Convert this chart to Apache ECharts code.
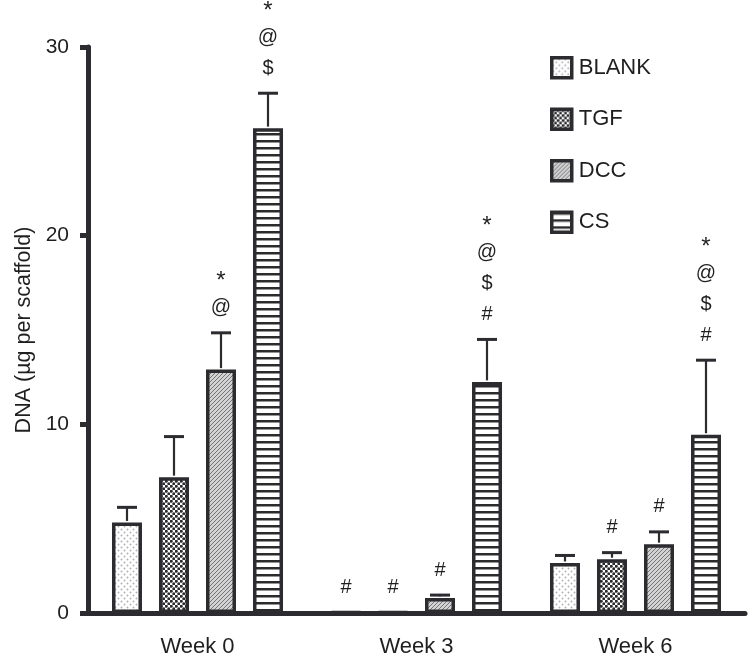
<!DOCTYPE html>
<html>
<head>
<meta charset="utf-8">
<script src="https://cdn.jsdelivr.net/npm/echarts@6/dist/echarts.min.js"></script>
<style>
html,body{margin:0;padding:0;background:#fff;}
#chart{width:754px;height:661px;}
</style>
</head>
<body>
<div id="chart"></div>
<script>
// ---- data ----
const categories = ['Week 0', 'Week 3', 'Week 6'];
const seriesNames = ['BLANK', 'TGF', 'DCC', 'CS'];
const blankMean = [4.8, 0.05, 2.65];
const blankSD   = [0.8, 0, 0.4];
const tgfMean   = [7.2, 0.05, 2.85];
const tgfSD     = [2.15, 0, 0.35];
const dccMean   = [12.9, 0.8, 3.65];
const dccSD     = [1.95, 0.15, 0.65];
const csMean    = [25.7, 12.25, 9.45];
const csSD      = [1.85, 2.25, 3.95];
const blankMarks = ['', '#', ''];
const tgfMarks   = ['', '#', '#'];
const dccMarks   = ['*\n@', '#', '#'];
const csMarks    = ['*\n@\n$', '*\n@\n$\n#', '*\n@\n$\n#'];
const yTicks = [0, 10, 20, 30];

const means = [blankMean, tgfMean, dccMean, csMean];
const sds = [blankSD, tgfSD, dccSD, csSD];
const marks = [blankMarks, tgfMarks, dccMarks, csMarks];

const DARK = '#2b2b30';
const TXT = '#1f1f1f';
const FONT = 'Liberation Sans, Arial, Helvetica, sans-serif';

// ---- patterns ----
function makeCanvas(w, h, draw) {
  const c = document.createElement('canvas');
  c.width = w; c.height = h;
  const ctx = c.getContext('2d');
  draw(ctx, w, h);
  return c;
}
const patBlank = makeCanvas(6, 6, (ctx, w, h) => {
  ctx.fillStyle = '#ffffff'; ctx.fillRect(0, 0, w, h);
  ctx.fillStyle = '#b0b0b0';
  ctx.beginPath(); ctx.arc(1.5, 1.5, 0.95, 0, Math.PI * 2); ctx.fill();
  ctx.beginPath(); ctx.arc(4.5, 4.5, 0.95, 0, Math.PI * 2); ctx.fill();
});
const patTgf = makeCanvas(5, 5, (ctx, w, h) => {
  ctx.fillStyle = '#ffffff'; ctx.fillRect(0, 0, w, h);
  ctx.fillStyle = '#2a2a2a';
  ctx.beginPath(); ctx.arc(1.25, 1.25, 1.5, 0, Math.PI * 2); ctx.fill();
  ctx.beginPath(); ctx.arc(3.75, 3.75, 1.5, 0, Math.PI * 2); ctx.fill();
});
const patDcc = makeCanvas(4, 4, (ctx, w, h) => {
  ctx.fillStyle = '#d2d2d2'; ctx.fillRect(0, 0, w, h);
  ctx.strokeStyle = '#767676'; ctx.lineWidth = 1;
  ctx.beginPath();
  ctx.moveTo(-1, 5); ctx.lineTo(5, -1);
  ctx.moveTo(-1, 1); ctx.lineTo(1, -1);
  ctx.moveTo(3, 5); ctx.lineTo(5, 3);
  ctx.stroke();
});
const patCs = makeCanvas(4, 7, (ctx, w, h) => {
  ctx.fillStyle = '#ffffff'; ctx.fillRect(0, 0, w, h);
  ctx.fillStyle = '#2b2b2b'; ctx.fillRect(0, 0, w, 2.5);
});
const patterns = [patBlank, patTgf, patDcc, patCs];

// ---- layout helpers ----
const BAR_W = 30;
const BAR_STEP = 47; // center-to-center distance of bars
const MARK_GAP = 25;
const MARK_STEP = 31;

const barSeries = seriesNames.map((name, i) => ({
  name: name,
  type: 'bar',
  data: means[i],
  barWidth: BAR_W,
  barGap: ((BAR_STEP - BAR_W) / BAR_W * 100).toFixed(1) + '%',
  barMinHeight: 1,
  itemStyle: {
    color: { image: patterns[i], repeat: 'repeat' },
    borderColor: DARK,
    borderWidth: 3.5
  },
  z: 2
}));

const errData = [];
const markData = [];
for (let s = 0; s < 4; s++) {
  for (let c = 0; c < categories.length; c++) {
    errData.push([c, means[s][c], sds[s][c], s]);
    markData.push([c, means[s][c] + sds[s][c], s, marks[s][c]]);
  }
}

const errSeries = {
  type: 'custom',
  name: 'err',
  data: errData,
  z: 3,
  silent: true,
  renderItem: function (params, api) {
    const c = api.value(0), m = api.value(1), sd = api.value(2), s = api.value(3);
    if (!sd) return null;
    const base = api.coord([c, m]);
    const top = api.coord([c, m + sd]);
    const x = base[0] + (s - 1.5) * BAR_STEP;
    const cap = 10;
    return {
      type: 'group',
      children: [
        { type: 'line', shape: { x1: x, y1: base[1] - 1.5, x2: x, y2: top[1] }, style: { stroke: DARK, lineWidth: 2.2 } },
        { type: 'line', shape: { x1: x - cap, y1: top[1], x2: x + cap, y2: top[1] }, style: { stroke: DARK, lineWidth: 3 } }
      ]
    };
  }
};

const markSeries = {
  type: 'custom',
  name: 'marks',
  data: markData,
  z: 4,
  silent: true,
  renderItem: function (params, api) {
    const c = api.value(0), top = api.value(1), s = api.value(2);
    const txt = markData[params.dataIndex][3];
    if (!txt) return null;
    const p = api.coord([c, top]);
    const x = p[0] + (s - 1.5) * BAR_STEP;
    const lines = txt.split('\n');
    const n = lines.length;
    const children = lines.map((t, k) => {
      const yc = p[1] - MARK_GAP - (n - 1 - k) * MARK_STEP;
      const star = t === '*';
      return {
        type: 'text',
        style: {
          text: t,
          x: x,
          y: star ? yc + 5 : yc,
          align: 'center',
          verticalAlign: 'middle',
          fontSize: star ? 24 : 20,
          fontFamily: FONT,
          fill: TXT
        }
      };
    });
    return { type: 'group', children: children };
  }
};

const chart = echarts.init(document.getElementById('chart'));
chart.setOption({
  animation: false,
  backgroundColor: '#ffffff',
  grid: { left: 88, right: 9, top: 47, bottom: 48, containLabel: false, outerBoundsMode: 'none' },
  legend: {
    data: seriesNames,
    orient: 'vertical',
    left: 545,
    top: 51,
    itemWidth: 20,
    itemHeight: 20,
    itemGap: 28,
    icon: 'rect',
    textStyle: { fontSize: 22, fontFamily: FONT, color: TXT, padding: [0, 0, 0, 2] },
    itemStyle: { borderColor: DARK, borderWidth: 3.5 }
  },
  xAxis: {
    type: 'category',
    data: categories,
    axisLine: { lineStyle: { color: DARK, width: 5 } },
    axisTick: { alignWithLabel: true, length: 8, lineStyle: { color: DARK, width: 5 } },
    axisLabel: { fontSize: 22, fontFamily: FONT, color: TXT, margin: 23 },
    splitLine: { show: false }
  },
  yAxis: {
    type: 'value',
    min: yTicks[0],
    max: yTicks[yTicks.length - 1],
    interval: yTicks[1] - yTicks[0],
    name: 'DNA (µg per scaffold)',
    nameLocation: 'middle',
    nameGap: 52,
    nameTextStyle: { fontSize: 21.5, fontFamily: FONT, color: TXT },
    axisLine: { show: true, lineStyle: { color: DARK, width: 5 } },
    axisTick: { show: true, length: 8, lineStyle: { color: DARK, width: 5 } },
    axisLabel: { fontSize: 21, fontFamily: FONT, color: TXT, margin: 19 },
    splitLine: { show: false }
  },
  series: barSeries.concat([errSeries, markSeries])
});
</script>
</body>
</html>
